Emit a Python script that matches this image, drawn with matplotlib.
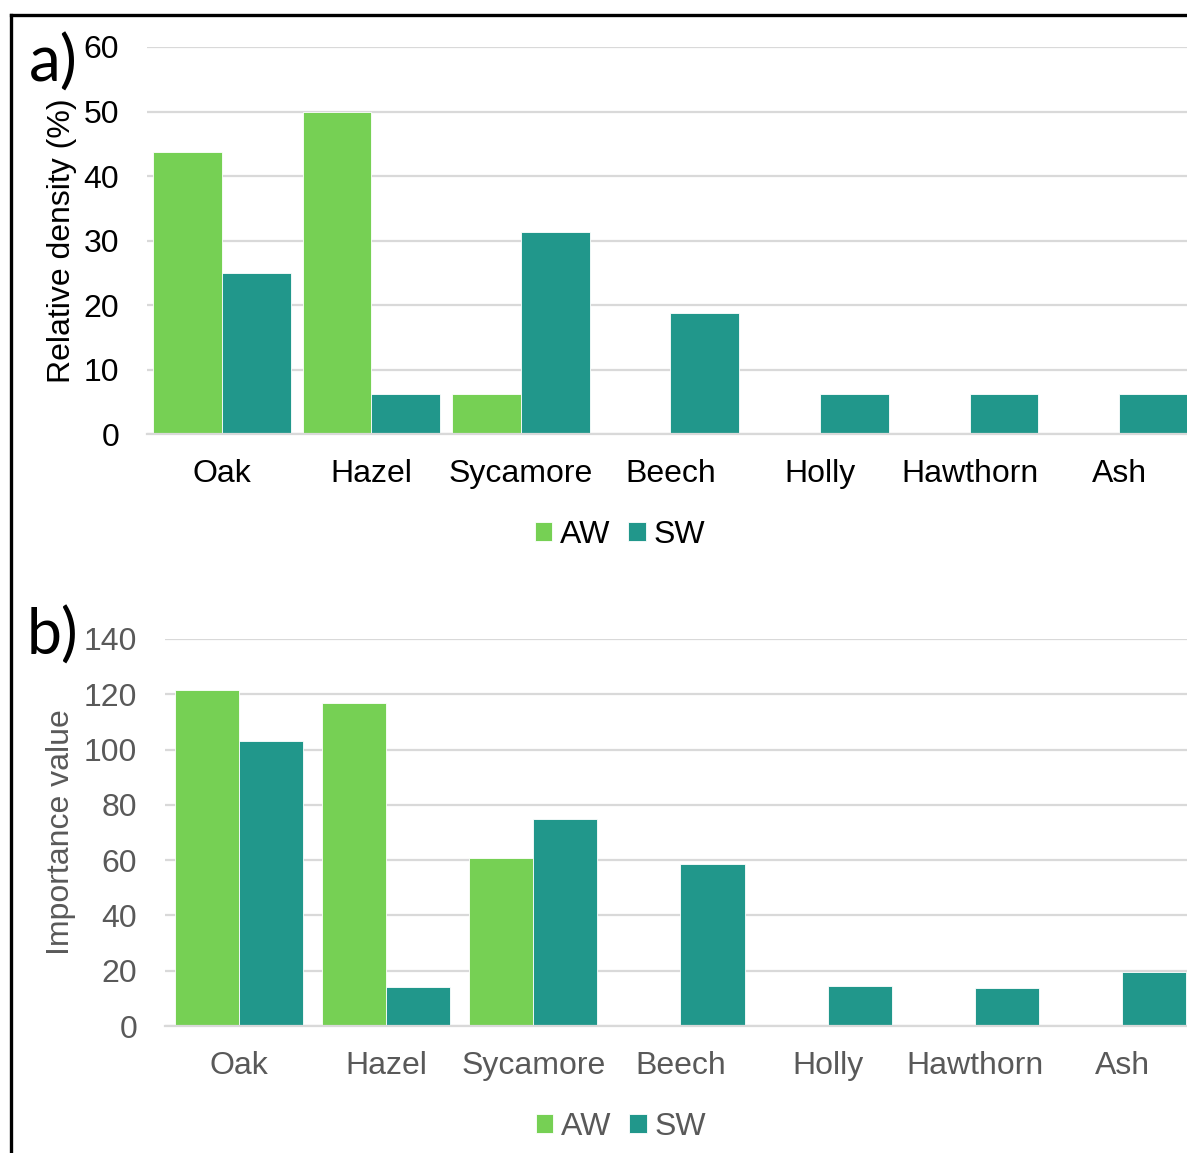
import numpy as np
import matplotlib.pyplot as plt
from matplotlib.lines import Line2D

# species and the two woodland types
species = ["Oak", "Hazel", "Sycamore", "Beech", "Holly", "Hawthorn", "Ash"]
series = ["AW", "SW"]

# a) relative density (%)
density_aw = [43.75, 50.0, 6.25, 0.0, 0.0, 0.0, 0.0]
density_sw = [25.0, 6.25, 31.25, 18.75, 6.25, 6.25, 6.25]

# b) importance value
importance_aw = [121.6, 116.9, 60.8, 0.0, 0.0, 0.0, 0.0]
importance_sw = [103.1, 14.1, 74.9, 58.6, 14.5, 13.7, 19.5]

c_aw = "#76d054"
c_sw = "#21978b"
grid_c = "#d9d9d9"
grey_txt = "#595959"
fs = 23

plt.rcParams["font.family"] = ["Liberation Sans", "DejaVu Sans"]

W, H = 1187, 1153
fig = plt.figure(figsize=(W / 100, H / 100), dpi=100)


def px_axes(left, right, y0, ytop):
    # pixel box -> figure fraction
    return fig.add_axes([left / W, 1 - y0 / H, (right - left) / W, (y0 - ytop) / H])


def panel(ax, aw, sw, width, ymax, step, ylabel, txt_color, leg_x):
    x = np.arange(len(species))
    ax.bar(x - width / 2, aw, width, color=c_aw, edgecolor="white", linewidth=0.6,
           label=series[0], zorder=3)
    ax.bar(x + width / 2, sw, width, color=c_sw, edgecolor="white", linewidth=0.6,
           label=series[1], zorder=3)
    ax.set_xlim(-0.5, len(species) - 0.5)
    ax.set_ylim(0, ymax)
    ax.set_yticks(np.arange(0, ymax + 1, step))
    ax.set_xticks(x)
    ax.set_xticklabels(species)
    ax.yaxis.grid(True, color=grid_c, linewidth=1.6, zorder=0)
    ax.set_axisbelow(True)
    for s in ["top", "right", "left"]:
        ax.spines[s].set_visible(False)
    ax.spines["bottom"].set_color(grid_c)
    ax.spines["bottom"].set_linewidth(1.6)
    ax.spines["bottom"].set_zorder(4)
    ax.tick_params(axis="both", length=0, labelsize=fs, colors=txt_color)
    ax.tick_params(axis="y", pad=20)
    ax.tick_params(axis="x", pad=18)
    ax.set_ylabel(ylabel, fontsize=fs, color=txt_color)
    leg = ax.legend(loc="center", bbox_to_anchor=(leg_x, -101 / 387), ncol=2,
                    frameon=False, fontsize=fs, handlelength=0.55, handleheight=0.55,
                    handletextpad=0.25, columnspacing=0.55, borderaxespad=0)
    for t in leg.get_texts():
        t.set_color(txt_color)
    return ax


ax1 = px_axes(147, 1194, 434, 47)
panel(ax1, density_aw, density_sw, 0.46, 60, 10, "Relative density (%)", "black",
      (620 - 147) / 1047)
ax1.yaxis.set_label_coords(-0.067, 0.5)

ax2 = px_axes(165, 1196, 1026, 639)
panel(ax2, importance_aw, importance_sw, 0.435, 140, 20, "Importance value", grey_txt,
      (621 - 165) / 1031)
ax2.yaxis.set_label_coords(-0.086, 0.5)

# panel letters
fig.text(29 / W, 1 - 82 / H, "a)", fontsize=46, family=["Lato", "DejaVu Sans"],
         ha="left", va="baseline")
fig.text(27 / W, 1 - 655 / H, "b)", fontsize=45, family=["Lato", "DejaVu Sans"],
         ha="left", va="baseline")

# outer frame
fig.add_artist(Line2D([11 / W, 11 / W], [0, 1 - 15 / H], color="black", linewidth=2.4))
fig.add_artist(Line2D([11 / W, 1], [1 - 15 / H, 1 - 15 / H], color="black", linewidth=2.4))

fig.savefig("out.png", dpi=100)
